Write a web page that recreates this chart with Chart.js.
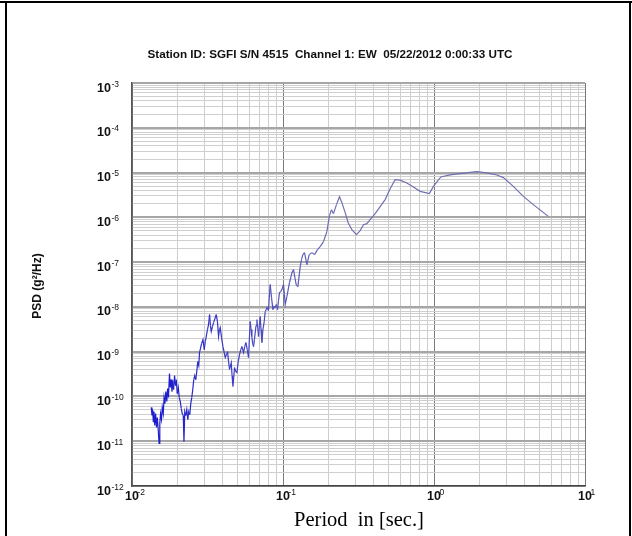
<!DOCTYPE html>
<html>
<head>
<meta charset="utf-8">
<script src="https://cdn.jsdelivr.net/npm/chart.js@4/dist/chart.umd.min.js"></script>
<style>
  html, body { margin: 0; padding: 0; background: #ffffff; }
  #wrap { position: relative; width: 632px; height: 536px; }
  canvas { display: block; }
</style>
</head>
<body>
<div id="wrap"><canvas id="psd" width="632" height="536"></canvas></div>
<script>
// Station SGFI S/N 4515, channel 1 (EW): power spectral density against period.
const titleText = 'Station ID: SGFI S/N 4515  Channel 1: EW  05/22/2012 0:00:33 UTC';
const yAxisTitle = 'PSD (g\u00B2/Hz)';
const xAxisTitle = 'Period  in [sec.]';

// Decade exponents used for the labelled ticks
const xTickExponents = [-2, -1, 0, 1];
const yTickExponents = [-12, -11, -10, -9, -8, -7, -6, -5, -4, -3];
const minorMultipliers = [1, 2, 3, 4, 5, 6, 7, 8, 9];

// Period in seconds
const periods = [
  0.01342, 0.01356, 0.01369, 0.01384, 0.01398, 0.01415, 0.01433, 0.01453, 0.01471, 0.01493,
  0.01511, 0.01528, 0.01546, 0.01568, 0.01587, 0.01611, 0.01631, 0.01654, 0.01674, 0.01700,
  0.01720, 0.01744, 0.01771, 0.01793, 0.01815, 0.01840, 0.01862, 0.01885, 0.01914, 0.01941,
  0.01964, 0.01994, 0.02025, 0.02056, 0.02088, 0.02120, 0.02152, 0.02185, 0.02209, 0.02236,
  0.02271, 0.02306, 0.02341, 0.02377, 0.02413, 0.02450, 0.02488, 0.02526, 0.02564, 0.02604,
  0.02644, 0.02685, 0.02726, 0.02768, 0.02802, 0.02831, 0.02888, 0.02951, 0.03010, 0.03056,
  0.03103, 0.03160, 0.03213, 0.03263, 0.03307, 0.03348, 0.03410, 0.03467, 0.03542, 0.03613,
  0.03680, 0.03742, 0.03794, 0.03840, 0.03917, 0.04002, 0.04069, 0.04145, 0.04221, 0.04293,
  0.04359, 0.04426, 0.04487, 0.04542, 0.04598, 0.04661, 0.04718, 0.04775, 0.04864, 0.04954,
  0.05053, 0.05154, 0.05250, 0.05346, 0.05412, 0.05478, 0.05579, 0.05682, 0.05796, 0.05912,
  0.05993, 0.06067, 0.06141, 0.06226, 0.06302, 0.06380, 0.06467, 0.06546, 0.06627, 0.06719,
  0.06801, 0.06885, 0.06979, 0.07065, 0.07151, 0.07251, 0.07362, 0.07509, 0.07624, 0.07741,
  0.07836, 0.08017, 0.08128, 0.08228, 0.08393, 0.08574, 0.08718, 0.08880, 0.09044, 0.09197,
  0.09338, 0.09480, 0.09656, 0.09833, 0.1008, 0.1022, 0.1034, 0.1061, 0.1082, 0.1104,
  0.1125, 0.1146, 0.1174, 0.1199, 0.1223, 0.1255, 0.1300, 0.1326, 0.1354, 0.1388,
  0.1439, 0.1491, 0.1554, 0.1617, 0.1692, 0.1763, 0.1854, 0.1952, 0.2031, 0.2094,
  0.2159, 0.2260, 0.2366, 0.2454, 0.2581, 0.2701, 0.2858, 0.3065, 0.3243, 0.3411,
  0.3592, 0.3777, 0.4076, 0.4399, 0.4748, 0.5123, 0.5529, 0.5967, 0.6607, 0.7307,
  0.8091, 0.9323, 0.9909, 1.109, 1.278, 1.488, 1.734, 1.920, 2.236, 2.604,
  2.880, 3.354, 3.906, 4.549, 5.716
];

// PSD in g^2/Hz
const psdValues = [
  5.7e-11, 3.75e-11, 5.1e-11, 2.75e-11, 4.6e-11, 2.24e-11, 4.15e-11, 2.02e-11, 3.38e-11, 1.73e-11,
  8.9e-12, 2.49e-11, 4.15e-11, 3.05e-11, 5.7e-11, 4.15e-11, 9.45e-11, 6.94e-11, 1.28e-10, 7.7e-11,
  1.50e-10, 9.45e-11, 3.24e-10, 1.58e-10, 2.38e-10, 1.28e-10, 2.26e-10, 1.43e-10, 2.93e-10, 1.75e-10,
  2.38e-10, 1.16e-10, 1.58e-10, 9.45e-11, 7.7e-11, 5.37e-11, 4.15e-11, 3.75e-11, 9.8e-12, 4.6e-11,
  3.75e-11, 5.1e-11, 3.05e-11, 4.6e-11, 3.95e-11, 6.94e-11, 9.45e-11, 1.43e-10, 2.38e-10, 2.93e-10,
  2.38e-10, 3.60e-10, 6.0e-10, 4.9e-10, 1.0e-9, 1.11e-9, 1.51e-9, 1.86e-9, 1.11e-9, 1.68e-9,
  2.18e-9, 3.11e-9, 4.03e-9, 6.73e-9, 3.83e-9, 2.81e-9, 3.64e-9, 4.46e-9, 5.48e-9, 6.73e-9,
  4.70e-9, 2.18e-9, 3.11e-9, 3.46e-9, 2.06e-9, 1.30e-9, 1.0e-9, 7.4e-10, 8.6e-10, 1.0e-9,
  6.0e-10, 4.0e-10, 4.9e-10, 5.7e-10, 2.93e-10, 1.66e-10, 2.64e-10, 4.4e-10, 3.60e-10, 3.42e-10,
  6.0e-10, 8.6e-10, 1.11e-9, 1.30e-9, 1.11e-9, 9.5e-10, 1.30e-9, 1.60e-9, 1.11e-9, 7.4e-10,
  2.06e-9, 4.70e-9, 3.11e-9, 2.06e-9, 1.51e-9, 1.30e-9, 1.86e-9, 2.67e-9, 3.83e-9, 5.2e-9,
  3.46e-9, 2.18e-9, 3.83e-9, 6.07e-9, 3.11e-9, 1.60e-9, 3.11e-9, 4.70e-9, 7.85e-9, 8.7e-9,
  9.65e-9, 8.27e-9, 1.78e-8, 3.15e-8, 1.61e-8, 8.7e-9, 1.02e-8, 9.65e-9, 1.13e-8, 8.7e-9,
  1.38e-8, 2.08e-8, 2.19e-8, 2.43e-8, 3.15e-8, 1.88e-8, 1.13e-8, 1.70e-8, 2.43e-8, 3.49e-8,
  4.5e-8, 5.83e-8, 6.8e-8, 4.5e-8, 3.15e-8, 2.84e-8, 7.93e-8, 1.14e-7, 1.47e-7, 1.63e-7,
  8.8e-8, 1.47e-7, 1.63e-7, 1.47e-7, 1.90e-7, 2.22e-7, 2.87e-7, 4.8e-7, 1.09e-6, 1.48e-6,
  1.21e-6, 1.92e-6, 2.89e-6, 2.13e-6, 1.27e-6, 7.6e-7, 5.3e-7, 4.1e-7, 5.05e-7, 6.87e-7,
  7.23e-7, 8.9e-7, 1.21e-6, 1.73e-6, 2.49e-6, 4.37e-6, 6.94e-6, 6.77e-6, 5.86e-6, 4.77e-6,
  3.81e-6, 3.38e-6, 4.92e-6, 7.98e-6, 8.84e-6, 9.45e-6, 1.01e-5, 1.05e-5, 9.8e-6, 8.84e-6,
  7.7e-6, 4.92e-6, 2.94e-6, 1.92e-6, 1.05e-6
];

const points = periods.map((p, i) => ({ x: p, y: psdValues[i] }));

function logTicks(exponents) {
  const ticks = [];
  for (let i = 0; i < exponents.length; i++) {
    const e = exponents[i];
    const last = i === exponents.length - 1;
    const mults = last ? [1] : minorMultipliers;
    mults.forEach(m => ticks.push({ value: m * Math.pow(10, e) }));
  }
  return ticks;
}

function isDecade(v) {
  const l = Math.log10(v);
  return Math.abs(l - Math.round(l)) < 1e-6;
}

// Trace colour: deep blue at short periods, fading to a greyish violet
function traceColour(x) {
  const t = Math.min(1, Math.max(0, (Math.log10(x) + 1.75) / 1.1));
  const r = Math.round(30 + t * (112 - 30));
  const g = Math.round(30 + t * (112 - 30));
  const b = Math.round(205 + t * (178 - 205));
  return `rgb(${r},${g},${b})`;
}

const NARROW = '"Liberation Sans Narrow", "Liberation Sans", Arial, sans-serif';
const SANS = '"Liberation Sans", Arial, sans-serif';
const SERIF = '"Liberation Serif", "Times New Roman", serif';

const decorations = {
  id: 'decorations',
  beforeDraw(chart) {
    const ctx = chart.ctx;
    ctx.save();
    ctx.fillStyle = '#ffffff';
    ctx.fillRect(0, 0, chart.width, chart.height);
    ctx.restore();
  },
  afterDraw(chart) {
    const ctx = chart.ctx;
    const xs = chart.scales.x;
    const ys = chart.scales.y;
    const area = chart.chartArea;
    ctx.save();

    // page frame
    ctx.fillStyle = '#000000';
    ctx.fillRect(0, 1, chart.width, 2);
    ctx.fillRect(5, 1, 2, chart.height);
    ctx.fillRect(629, 1, 2, chart.height);

    // title
    ctx.fillStyle = '#111111';
    ctx.font = 'bold 11.7px ' + SANS;
    ctx.textAlign = 'center';
    ctx.textBaseline = 'alphabetic';
    ctx.fillText(titleText, 330, 58);

    // y tick labels: 10 with superscript exponent
    yTickExponents.forEach(e => {
      const py = ys.getPixelForValue(Math.pow(10, e));
      ctx.font = 'bold 12.5px ' + NARROW;
      ctx.textAlign = 'right';
      ctx.fillText('10', 111, py + 8.5);
      ctx.font = '8.5px ' + NARROW;
      ctx.textAlign = 'left';
      ctx.fillText('-' + Math.abs(e), 111.5, py + 3.5);
    });

    // x tick labels
    xTickExponents.forEach(e => {
      const px = xs.getPixelForValue(Math.pow(10, e));
      ctx.font = 'bold 12.5px ' + NARROW;
      ctx.textAlign = 'center';
      ctx.fillText('10', px, area.bottom + 14);
      ctx.font = '8.5px ' + NARROW;
      ctx.textAlign = 'left';
      ctx.fillText((e < 0 ? '-' : '') + Math.abs(e), px + 5.5, area.bottom + 9);
    });

    // y axis title
    ctx.save();
    ctx.translate(40.5, 286);
    ctx.rotate(-Math.PI / 2);
    ctx.font = 'bold 12px ' + SANS;
    ctx.textAlign = 'center';
    ctx.fillText(yAxisTitle, 0, 0);
    ctx.restore();

    // x axis title
    ctx.font = '20.5px ' + SERIF;
    ctx.textAlign = 'center';
    ctx.fillStyle = '#000000';
    ctx.fillText(xAxisTitle, 359, 526);

    ctx.restore();
  }
};

new Chart(document.getElementById('psd'), {
  type: 'line',
  data: {
    datasets: [{
      data: points,
      borderWidth: 1.2,
      pointRadius: 0,
      tension: 0,
      fill: false,
      borderColor: 'rgb(70,70,190)',
      segment: {
        borderColor: c => traceColour(c.p0.parsed.x)
      }
    }]
  },
  options: {
    responsive: false,
    animation: false,
    events: [],
    layout: { autoPadding: false, padding: { left: 132, right: 47, top: 83, bottom: 50 } },
    plugins: { legend: { display: false }, tooltip: { enabled: false }, title: { display: false } },
    scales: {
      x: {
        type: 'logarithmic',
        min: 0.01,
        max: 10,
        afterBuildTicks: s => { s.ticks = logTicks(xTickExponents); },
        ticks: { display: false },
        grid: {
          drawTicks: false,
          color: c => (c.tick && isDecade(c.tick.value)) ? '#7a7a7a' : '#cdcdcd',
          lineWidth: 1
        },
        border: { display: true, color: '#444444', width: 1.5 }
      },
      y: {
        type: 'logarithmic',
        min: 1e-12,
        max: 1e-3,
        afterBuildTicks: s => { s.ticks = logTicks(yTickExponents); },
        ticks: { display: false },
        grid: {
          drawTicks: false,
          color: c => (c.tick && isDecade(c.tick.value)) ? '#a6a6a6' : '#cfcfcf',
          lineWidth: c => (c.tick && isDecade(c.tick.value)) ? 2 : 1
        },
        border: { display: true, color: '#555555', width: 1.5 }
      }
    }
  },
  plugins: [decorations]
});
</script>
</body>
</html>
